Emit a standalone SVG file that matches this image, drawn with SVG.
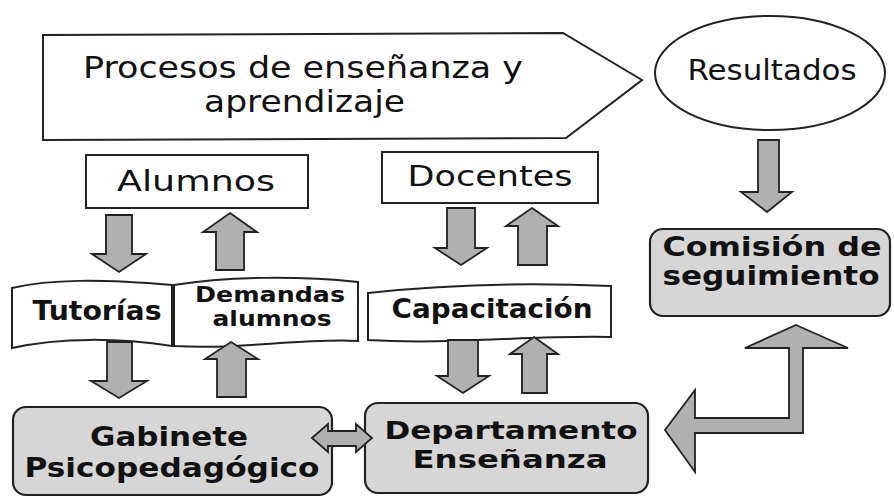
<svg xmlns="http://www.w3.org/2000/svg" width="894" height="497" viewBox="0 0 894 497">
<style>
.reg{font-family:"DejaVu Sans","Liberation Sans",sans-serif;fill:#111}
.bold{font-family:"DejaVu Sans","Liberation Sans",sans-serif;font-weight:bold;fill:#111}
.line{fill:#fff;stroke:#222;stroke-width:2}
.rbox{fill:#d6d6d6;stroke:#222;stroke-width:2.2}
.arr{fill:#b0b0b0;stroke:#222;stroke-width:1.8;stroke-linejoin:miter}
</style>
<rect width="894" height="497" fill="#fff"/>

<g id="procesos">
<polygon class="line" points="43,35 563,33 642,80 566,138 43,140"/>
<text class="reg" x="83" y="78" font-size="30" textLength="440" lengthAdjust="spacingAndGlyphs">Procesos de enseñanza y</text>
<text class="reg" x="204" y="112" font-size="30" textLength="201" lengthAdjust="spacingAndGlyphs">aprendizaje</text>
</g>

<g id="resultados">
<ellipse class="line" cx="770" cy="73" rx="115" ry="57"/>
<text class="reg" x="772" y="80" font-size="28" text-anchor="middle" textLength="169" lengthAdjust="spacingAndGlyphs">Resultados</text>
</g>

<g id="alumnos">
<rect class="line" x="86" y="155" width="222" height="53"/>
<text class="reg" x="196" y="191" font-size="29" text-anchor="middle" textLength="158" lengthAdjust="spacingAndGlyphs">Alumnos</text>
</g>

<g id="docentes">
<rect class="line" x="382" y="152" width="216" height="51"/>
<text class="reg" x="490" y="186" font-size="29" text-anchor="middle" textLength="165" lengthAdjust="spacingAndGlyphs">Docentes</text>
</g>

<g id="tutorias">
<path class="line" d="M12,288 C50,279 100,279 172,285 L172,346 C120,338 60,337 12,348 Z"/>
<text class="bold" x="97" y="320" font-size="26" text-anchor="middle" textLength="129" lengthAdjust="spacingAndGlyphs">Tutorías</text>
</g>

<g id="demandas">
<path class="line" d="M174,285 C230,276 300,276 358,282 L358,341 C300,338 240,350 174,346 Z"/>
<text class="bold" x="270" y="302" font-size="22" text-anchor="middle" textLength="150" lengthAdjust="spacingAndGlyphs">Demandas</text>
<text class="bold" x="272" y="326" font-size="22" text-anchor="middle" textLength="119" lengthAdjust="spacingAndGlyphs">alumnos</text>
</g>

<g id="capacitacion">
<path class="line" d="M368,293 C440,285 520,282 611,286 L611,337 C530,335 450,345 368,340 Z"/>
<text class="bold" x="492" y="318" font-size="26" text-anchor="middle" textLength="201" lengthAdjust="spacingAndGlyphs">Capacitación</text>
</g>

<g id="comision">
<rect class="rbox" x="650" y="229" width="240" height="87" rx="13"/>
<text class="bold" x="772" y="256" font-size="26" text-anchor="middle" textLength="219" lengthAdjust="spacingAndGlyphs">Comisión de</text>
<text class="bold" x="771" y="285" font-size="26" text-anchor="middle" textLength="217" lengthAdjust="spacingAndGlyphs">seguimiento</text>
</g>

<g id="gabinete">
<rect class="rbox" x="13" y="407" width="319" height="88" rx="13"/>
<text class="bold" x="169" y="446" font-size="27" text-anchor="middle" textLength="158" lengthAdjust="spacingAndGlyphs">Gabinete</text>
<text class="bold" x="172" y="477" font-size="27" text-anchor="middle" textLength="295" lengthAdjust="spacingAndGlyphs">Psicopedagógico</text>
</g>

<g id="departamento">
<rect class="rbox" x="365" y="403" width="283" height="90" rx="13"/>
<text class="bold" x="511" y="439" font-size="25" text-anchor="middle" textLength="253" lengthAdjust="spacingAndGlyphs">Departamento</text>
<text class="bold" x="510" y="468" font-size="25" text-anchor="middle" textLength="195" lengthAdjust="spacingAndGlyphs">Enseñanza</text>
</g>

<g id="connectors">
<path class="arr" d="M106,215 L132,215 L132,254 L146,254 L119,272 L92,254 L106,254 Z"/>
<path class="arr" d="M230,213 L257,232 L244,232 L244,270 L216,270 L216,232 L203,232 Z"/>
<path class="arr" d="M107,342 L132,342 L132,381 L147,381 L119,398 L91,381 L107,381 Z"/>
<path class="arr" d="M231,342 L258,359 L246,359 L246,397 L217,397 L217,359 L205,359 Z"/>
<path class="arr" d="M447,208 L475,208 L475,248 L487,248 L461,265 L435,248 L447,248 Z"/>
<path class="arr" d="M532,208 L558,226 L547,226 L547,265 L518,265 L518,226 L506,226 Z"/>
<path class="arr" d="M448,340 L478,340 L478,376 L489,376 L463,393 L437,376 L448,376 Z"/>
<path class="arr" d="M534,337 L558,354 L547,354 L547,393 L522,393 L522,354 L510,354 Z"/>
<path class="arr" d="M758,140 L779,140 L779,192 L792,192 L767,212 L741,192 L758,192 Z"/>
<path class="arr" d="M796,325 L848,348 L803,348 L803,433 L695,433 L695,472 L665,430 L695,390 L695,418 L789,418 L789,348 L745,348 Z"/>
<path class="arr" d="M312,438 L328,424 L328,431 L356,431 L356,424 L372,438 L356,452 L356,446 L328,446 L328,452 Z"/>
</g>
</svg>
